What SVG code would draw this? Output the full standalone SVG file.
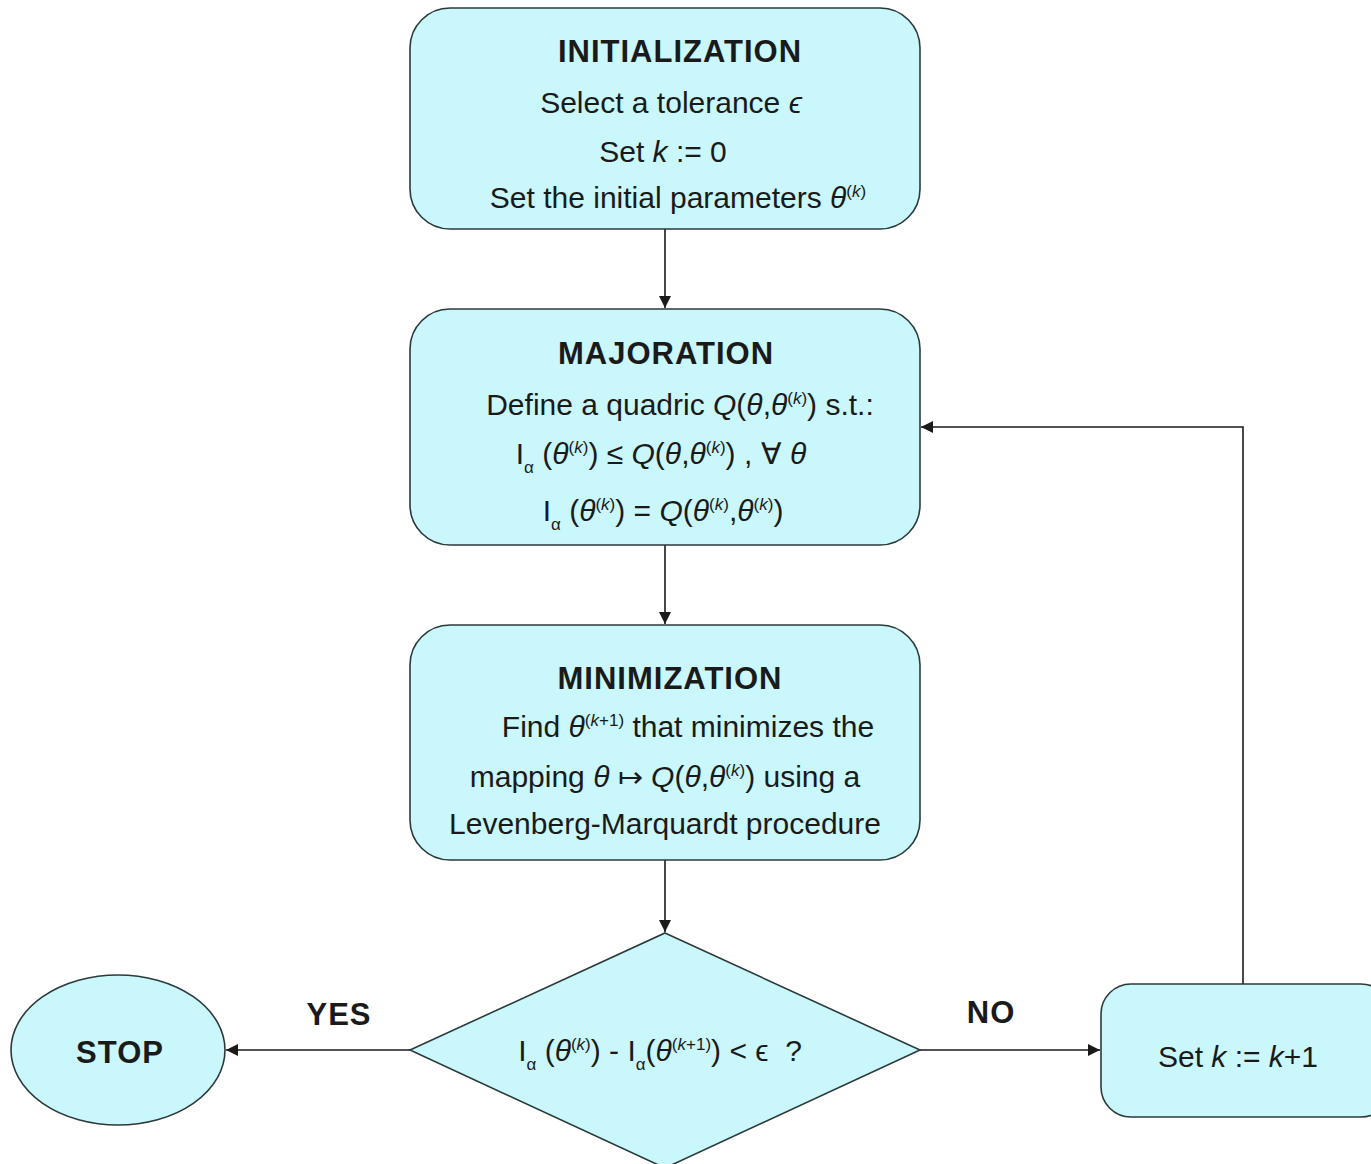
<svg xmlns="http://www.w3.org/2000/svg" width="1371" height="1164" viewBox="0 0 1371 1164">
<defs>
<marker id="ah" viewBox="0 0 10 10" refX="10" refY="5" markerWidth="12" markerHeight="12" markerUnits="userSpaceOnUse" orient="auto">
<path d="M0,0 L10,5 L0,10 z" fill="#1a1a1a"/>
</marker>
<style>
.box{fill:#c9f7fb;stroke:#2b3a3a;stroke-width:1.6}
.t{font-family:"Liberation Sans",Arial,sans-serif;font-size:30px;fill:#1a1a1a;text-anchor:middle}
.b{font-weight:bold;font-size:31px;letter-spacing:1px}
.i{font-style:italic}
.s{font-size:17px}
.c{fill:none;stroke:#1a1a1a;stroke-width:1.6}
</style>
</defs>
<rect width="1371" height="1164" fill="#ffffff"/>
<g id="connectors">
<line class="c" x1="665" y1="229" x2="665" y2="308" marker-end="url(#ah)"/>
<line class="c" x1="665" y1="545" x2="665" y2="624" marker-end="url(#ah)"/>
<line class="c" x1="665" y1="860" x2="665" y2="932" marker-end="url(#ah)"/>
<line class="c" x1="410" y1="1050" x2="226" y2="1050" marker-end="url(#ah)"/>
<line class="c" x1="920" y1="1050" x2="1100" y2="1050" marker-end="url(#ah)"/>
<polyline class="c" points="1243,984 1243,427 921,427" marker-end="url(#ah)"/>
</g>
<g id="initialization">
<rect class="box" x="410" y="8" width="510" height="221" rx="40"/>
<text class="t b" x="680" y="62">INITIALIZATION</text>
<text class="t" x="671" y="113">Select a tolerance <tspan class="i">ϵ</tspan></text>
<text class="t" x="663" y="162">Set <tspan class="i">k</tspan> := 0</text>
<text class="t" x="678" y="208">Set the initial parameters <tspan class="i">θ</tspan><tspan class="s" dy="-11">(<tspan class="i">k</tspan>)</tspan></text>
</g>
<g id="majoration">
<rect class="box" x="410" y="309" width="510" height="236" rx="40"/>
<text class="t b" x="666" y="364">MAJORATION</text>
<text class="t" x="680" y="415">Define a quadric <tspan class="i">Q</tspan>(<tspan class="i">θ</tspan>,<tspan class="i">θ</tspan><tspan class="s" dy="-11">(<tspan class="i">k</tspan>)</tspan><tspan dy="11">) s.t.:</tspan></text>
<text class="t" x="661" y="464">I<tspan class="s" dy="9">α</tspan><tspan dy="-9"> (</tspan><tspan class="i">θ</tspan><tspan class="s" dy="-11">(<tspan class="i">k</tspan>)</tspan><tspan dy="11">) ≤ </tspan><tspan class="i">Q</tspan>(<tspan class="i">θ</tspan>,<tspan class="i">θ</tspan><tspan class="s" dy="-11">(<tspan class="i">k</tspan>)</tspan><tspan dy="11">) , ∀ </tspan><tspan class="i">θ</tspan></text>
<text class="t" x="663" y="521">I<tspan class="s" dy="9">α</tspan><tspan dy="-9"> (</tspan><tspan class="i">θ</tspan><tspan class="s" dy="-11">(<tspan class="i">k</tspan>)</tspan><tspan dy="11">) = </tspan><tspan class="i">Q</tspan>(<tspan class="i">θ</tspan><tspan class="s" dy="-11">(<tspan class="i">k</tspan>)</tspan><tspan dy="11">,</tspan><tspan class="i">θ</tspan><tspan class="s" dy="-11">(<tspan class="i">k</tspan>)</tspan><tspan dy="11">)</tspan></text>
</g>
<g id="minimization">
<rect class="box" x="410" y="625" width="510" height="235" rx="40"/>
<text class="t b" x="670" y="689">MINIMIZATION</text>
<text class="t" x="688" y="737">Find <tspan class="i">θ</tspan><tspan class="s" dy="-11">(<tspan class="i">k</tspan>+1)</tspan><tspan dy="11"> that minimizes the</tspan></text>
<text class="t" x="665" y="787">mapping <tspan class="i">θ</tspan> ↦ <tspan class="i">Q</tspan>(<tspan class="i">θ</tspan>,<tspan class="i">θ</tspan><tspan class="s" dy="-11">(<tspan class="i">k</tspan>)</tspan><tspan dy="11">) using a</tspan></text>
<text class="t" x="665" y="834">Levenberg-Marquardt procedure</text>
</g>
<g id="decision">
<polygon class="box" points="665,933 920,1050 665,1168 410,1050"/>
<text class="t" x="660" y="1061" xml:space="preserve">I<tspan class="s" dy="9">α</tspan><tspan dy="-9"> (</tspan><tspan class="i">θ</tspan><tspan class="s" dy="-11">(<tspan class="i">k</tspan>)</tspan><tspan dy="11">) - I</tspan><tspan class="s" dy="9">α</tspan><tspan dy="-9">(</tspan><tspan class="i">θ</tspan><tspan class="s" dy="-11">(<tspan class="i">k</tspan>+1)</tspan><tspan dy="11">) &lt; ϵ  ?</tspan></text>
</g>
<g id="stop">
<ellipse class="box" cx="118" cy="1050" rx="107" ry="75"/>
<text class="t b" x="120" y="1063">STOP</text>
</g>
<g id="increment">
<rect class="box" x="1101" y="984" width="290" height="133" rx="30"/>
<text class="t" x="1238" y="1067">Set <tspan class="i">k</tspan> := <tspan class="i">k</tspan>+1</text>
</g>
<g id="labels">
<text class="t b" x="339" y="1025">YES</text>
<text class="t b" x="991" y="1023">NO</text>
</g>
</svg>
